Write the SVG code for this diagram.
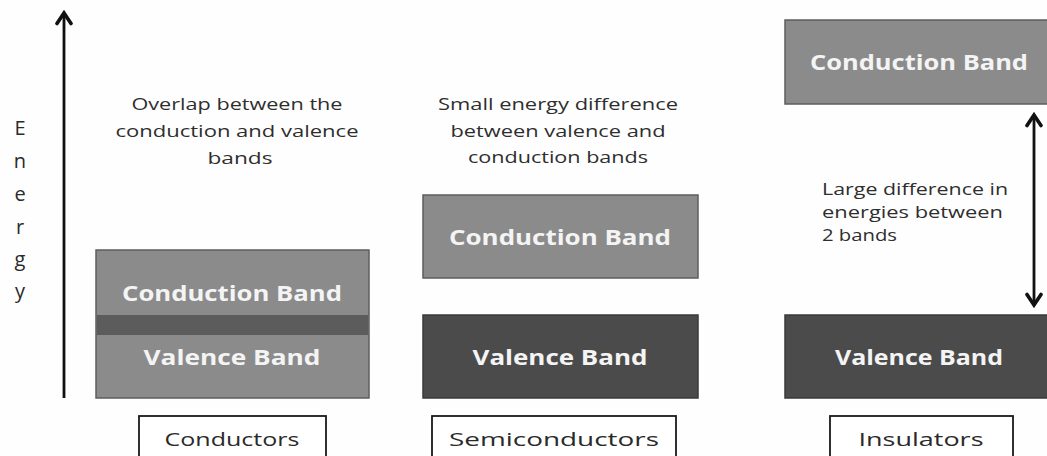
<svg xmlns="http://www.w3.org/2000/svg" width="1047" height="456" viewBox="0 0 1047 456">
<style>
.note{font-family:"Open Sans","DejaVu Sans",sans-serif;font-size:16px;fill:#2e2e2e;}
.axis{font-family:"Open Sans","DejaVu Sans",sans-serif;font-size:20px;fill:#2a2a2a;}
.band{font-family:"Open Sans","DejaVu Sans",sans-serif;font-size:22px;font-weight:bold;fill:#f4f4f4;}
.lbl{font-family:"Open Sans","DejaVu Sans",sans-serif;font-size:19px;fill:#2a2a2a;}
.cb{fill:#8b8b8b;stroke:#5e5e5e;stroke-width:1.5;}
.vb{fill:#4b4b4b;stroke:#3a3a3a;stroke-width:1.5;}
.box{fill:#fff;stroke:#1a1a1a;stroke-width:1.8;}
.ln{stroke:#111;stroke-width:2.8;fill:none;}
</style>
<defs>
<marker id="ah" viewBox="0 0 16 18" refX="13" refY="9" markerWidth="16" markerHeight="18" markerUnits="userSpaceOnUse" orient="auto-start-reverse">
<path d="M2.5,2 L13,9 L2.5,16" fill="none" stroke="#111" stroke-width="3.6" stroke-linejoin="miter" stroke-linecap="round"/>
</marker>
</defs>
<rect width="1047" height="456" fill="#fefefe"/>

<g id="connectors">
<line class="ln" x1="64" y1="398" x2="64" y2="13" marker-end="url(#ah)"/>
<line class="ln" x1="1034" y1="115" x2="1034" y2="305" marker-start="url(#ah)" marker-end="url(#ah)"/>
</g>

<g id="energy-label">
<text class="axis" x="20" y="135" text-anchor="middle">E</text>
<text class="axis" x="20" y="168" text-anchor="middle">n</text>
<text class="axis" x="20" y="201" text-anchor="middle">e</text>
<text class="axis" x="20" y="234" text-anchor="middle">r</text>
<text class="axis" x="20" y="266" text-anchor="middle">g</text>
<text class="axis" x="20" y="298" text-anchor="middle">y</text>
</g>

<g id="conductors">
<rect class="cb" x="96" y="250" width="273" height="148"/>
<rect x="96.8" y="315" width="271.4" height="20" fill="#5c5c5c"/>
<text class="band" x="232" y="301" text-anchor="middle" textLength="220" lengthAdjust="spacingAndGlyphs">Conduction Band</text>
<text class="band" x="232" y="365" text-anchor="middle" textLength="177" lengthAdjust="spacingAndGlyphs">Valence Band</text>
<text class="note" x="237" y="110" text-anchor="middle" textLength="211" lengthAdjust="spacingAndGlyphs">Overlap between the</text>
<text class="note" x="237" y="137" text-anchor="middle" textLength="243" lengthAdjust="spacingAndGlyphs">conduction and valence</text>
<text class="note" x="240" y="164" text-anchor="middle" textLength="65" lengthAdjust="spacingAndGlyphs">bands</text>
<rect class="box" x="139" y="416" width="187" height="50"/>
<text class="lbl" x="232" y="446" text-anchor="middle" textLength="135" lengthAdjust="spacingAndGlyphs">Conductors</text>
</g>

<g id="semiconductors">
<text class="note" x="558" y="110" text-anchor="middle" textLength="240" lengthAdjust="spacingAndGlyphs">Small energy difference</text>
<text class="note" x="558" y="137" text-anchor="middle" textLength="215" lengthAdjust="spacingAndGlyphs">between valence and</text>
<text class="note" x="558" y="163" text-anchor="middle" textLength="180" lengthAdjust="spacingAndGlyphs">conduction bands</text>
<rect class="cb" x="423" y="195" width="275" height="83"/>
<text class="band" x="560" y="245" text-anchor="middle" textLength="222" lengthAdjust="spacingAndGlyphs">Conduction Band</text>
<rect class="vb" x="423" y="315" width="275" height="83"/>
<text class="band" x="560" y="365" text-anchor="middle" textLength="175" lengthAdjust="spacingAndGlyphs">Valence Band</text>
<rect class="box" x="432" y="416" width="244" height="50"/>
<text class="lbl" x="554" y="446" text-anchor="middle" textLength="210" lengthAdjust="spacingAndGlyphs">Semiconductors</text>
</g>

<g id="insulators">
<rect class="cb" x="785" y="20" width="268" height="84"/>
<text class="band" x="919" y="70" text-anchor="middle" textLength="218" lengthAdjust="spacingAndGlyphs">Conduction Band</text>
<text class="note" x="822" y="195" textLength="186" lengthAdjust="spacingAndGlyphs">Large difference in</text>
<text class="note" x="822" y="218" textLength="181" lengthAdjust="spacingAndGlyphs">energies between</text>
<text class="note" x="822" y="241" textLength="75" lengthAdjust="spacingAndGlyphs">2 bands</text>
<rect class="vb" x="785" y="315" width="268" height="83"/>
<text class="band" x="919" y="365" text-anchor="middle" textLength="168" lengthAdjust="spacingAndGlyphs">Valence Band</text>
<rect class="box" x="830" y="416" width="183" height="50"/>
<text class="lbl" x="921" y="446" text-anchor="middle" textLength="125" lengthAdjust="spacingAndGlyphs">Insulators</text>
</g>
</svg>
